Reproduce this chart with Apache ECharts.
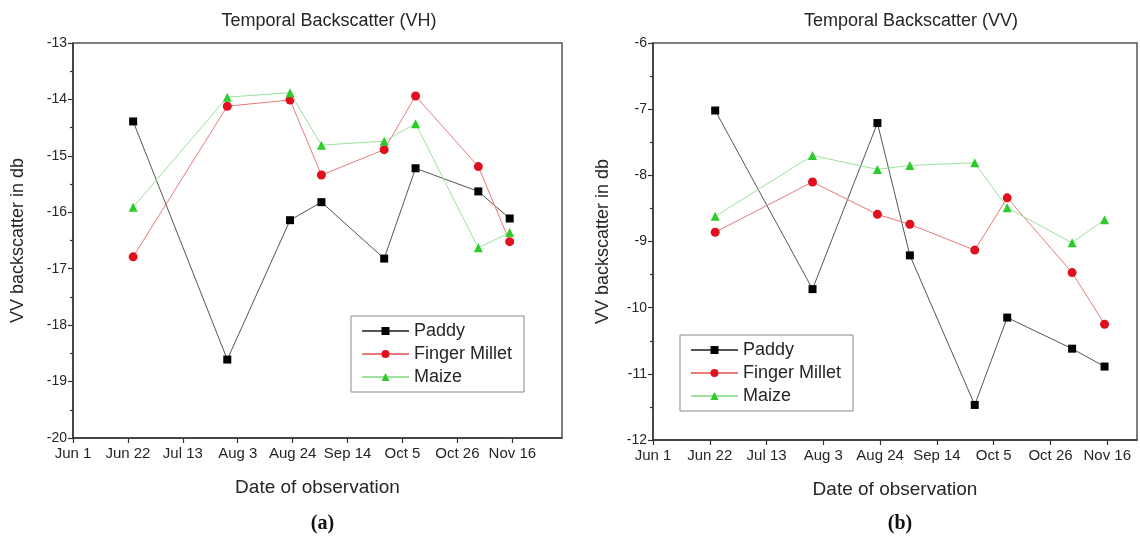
<!DOCTYPE html>
<html><head><meta charset="utf-8">
<script src="https://cdn.jsdelivr.net/npm/echarts@6/dist/echarts.min.js"></script>
<style>html,body{margin:0;padding:0;background:#fff}#c{width:1140px;height:537px}</style>
</head><body><div id="c"></div>
<script>
// ---- data ----
const startDate = '2016-06-01';
const obsDates = ['2016-06-24','2016-07-30','2016-08-23','2016-09-04','2016-09-28','2016-10-10','2016-11-03','2016-11-15'];
const tickLabels = ['Jun 1','Jun 22','Jul 13','Aug 3','Aug 24','Sep 14','Oct 5','Oct 26','Nov 16'];
const seriesNames = ['Paddy','Finger Millet','Maize'];
const vhPaddy  = [-14.39, -18.61, -16.14, -15.82, -16.82, -15.22, -15.63, -16.11];
const vhFinger = [-16.79, -14.12, -14.01, -15.34, -14.89, -13.94, -15.19, -16.52];
const vhMaize  = [-15.91, -13.96, -13.88, -14.81, -14.74, -14.43, -16.63, -16.36];
const vvPaddy  = [-7.02, -9.72, -7.21, -9.21, -11.47, -10.15, -10.62, -10.89];
const vvFinger = [-8.86, -8.10, -8.59, -8.74, -9.13, -8.34, -9.47, -10.25];
const vvMaize  = [-8.62, -7.70, -7.91, -7.85, -7.81, -8.49, -9.02, -8.67];
const titles = ['Temporal Backscatter (VH)', 'Temporal Backscatter (VV)'];
const panelLabels = ['(a)', '(b)'];
const yName = 'VV backscatter in db';
const xName = 'Date of observation';

// ---- build ----
const DAY = 86400000;
const days = obsDates.map(d => (Date.parse(d) - Date.parse(startDate)) / DAY);
const pts = arr => arr.map((v, i) => [days[i], v]);

const styles = [
  {symbol: 'rect', symbolSize: 8, itemStyle: {color: '#000'}, lineStyle: {color: '#555', width: 1}},
  {symbol: 'circle', symbolSize: 9, itemStyle: {color: '#e0101e'}, lineStyle: {color: '#e77a7a', width: 1}},
  {symbol: 'triangle', symbolSize: 9, itemStyle: {color: '#2bcc2b'}, lineStyle: {color: '#9ce29c', width: 1}}
];
const panels = [
  {data: [vhPaddy, vhFinger, vhMaize], ymin: -20, ymax: -13, xmax: 187,
   grid: {left: 73, top: 43, width: 489, height: 395}, legend: {left: 351, top: 316},
   title: 324, yGap: 46},
  {data: [vvPaddy, vvFinger, vvMaize], ymin: -12, ymax: -6, xmax: 179,
   grid: {left: 653, top: 43, width: 484, height: 397}, legend: {left: 680, top: 335},
   title: 906, yGap: 41}
];
const txt = '#262626';
const font = 'Liberation Sans, Arial, sans-serif';

const option = {
  backgroundColor: '#fff',
  animation: false,
  textStyle: {fontFamily: font},
  title: [],
  legend: [],
  grid: [],
  xAxis: [],
  yAxis: [],
  series: []
};

panels.forEach((p, k) => {
  option.title.push({text: titles[k], left: p.title, top: 7, textAlign: 'center',
    textStyle: {fontFamily: font, fontSize: 18, fontWeight: 'normal', color: txt}});
  option.title.push({text: panelLabels[k], left: p.grid.left + p.grid.width / 2, top: 509, textAlign: 'center',
    textStyle: {fontFamily: 'Liberation Serif, Times New Roman, serif', fontSize: 20, fontWeight: 'bold', color: '#111'}});
  option.grid.push(Object.assign({show: true, borderColor: '#555', borderWidth: 1.5, containLabel: false}, p.grid));
  option.legend.push({
    left: p.legend.left, top: p.legend.top, orient: 'vertical', data: seriesNames,
    backgroundColor: '#fff', borderColor: '#888', borderWidth: 1,
    padding: [6, 12, 6, 10], itemGap: 5, itemWidth: 47, itemHeight: 10,
    textStyle: {fontFamily: font, fontSize: 18, color: txt}
  });
  option.xAxis.push({
    type: 'value', gridIndex: k, min: 0, max: p.xmax, interval: 21,
    name: xName, nameLocation: 'middle', nameGap: 40,
    nameTextStyle: {fontFamily: font, fontSize: 19, color: txt},
    axisLine: {lineStyle: {color: '#333', width: 1.5}},
    axisTick: {length: 5, lineStyle: {color: '#333', width: 1.2}},
    splitLine: {show: false},
    axisLabel: {fontFamily: font, fontSize: 15, color: txt, margin: 8, showMaxLabel: false,
      formatter: v => { const i = v / 21; return Number.isInteger(i) && tickLabels[i] ? tickLabels[i] : ''; }}
  });
  option.yAxis.push({
    type: 'value', gridIndex: k, min: p.ymin, max: p.ymax, interval: 1,
    name: yName, nameLocation: 'middle', nameGap: p.yGap, nameRotate: 90,
    nameTextStyle: {fontFamily: font, fontSize: 18, color: txt},
    axisLine: {lineStyle: {color: '#333', width: 1.5}},
    axisTick: {length: 5, lineStyle: {color: '#333', width: 1.2}},
    minorTick: {show: true, splitNumber: 2, length: 3, lineStyle: {color: '#333', width: 1.2}},
    splitLine: {show: false},
    axisLabel: {fontFamily: font, fontSize: 14, color: txt, margin: 6}
  });
  p.data.forEach((arr, j) => {
    option.series.push(Object.assign({
      type: 'line', name: seriesNames[j], xAxisIndex: k, yAxisIndex: k,
      data: pts(arr), showAllSymbol: true, z: 3 + j
    }, styles[j]));
  });
});

const chart = echarts.init(document.getElementById('c'), null, {renderer: 'canvas'});
chart.setOption(option);
</script>
</body></html>
